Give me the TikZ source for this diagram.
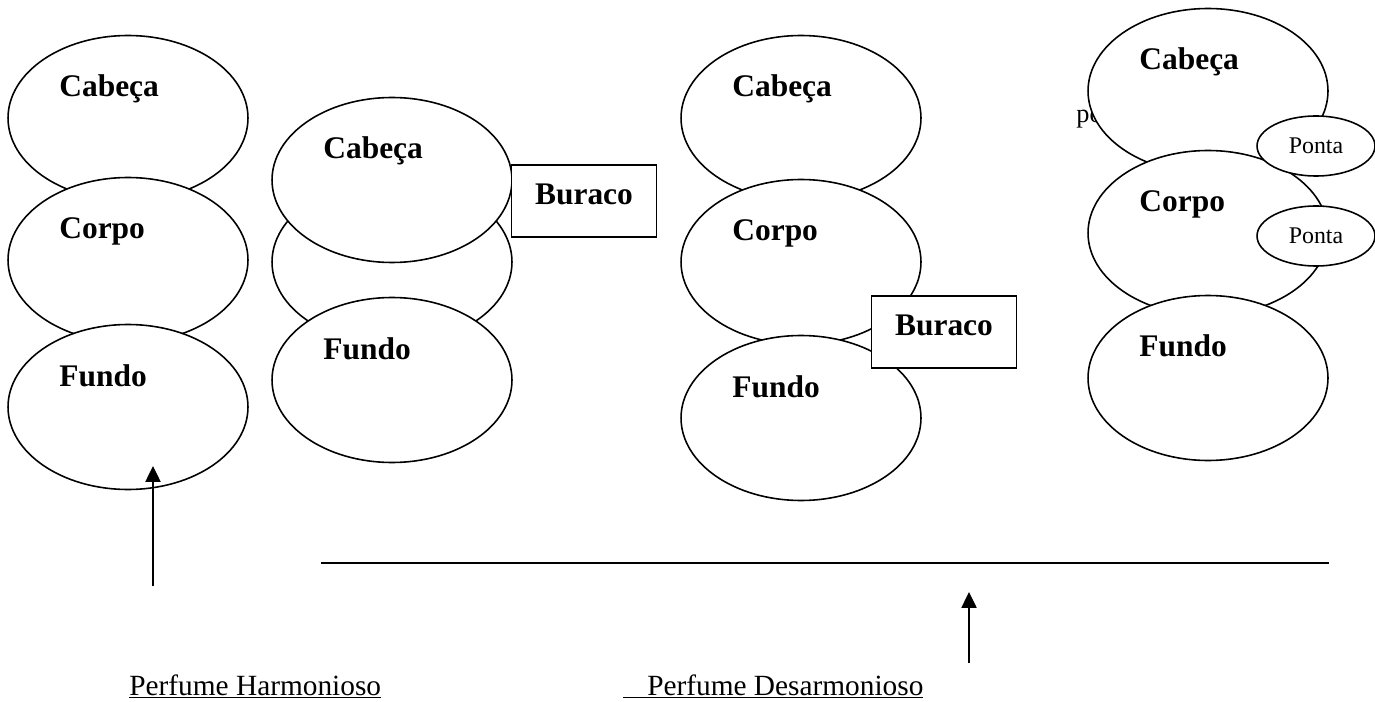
\documentclass[tikz,border=0pt]{standalone}
\usepackage{fontspec}
\setmainfont{Liberation Serif}
\usetikzlibrary{shapes.geometric,arrows.meta}

\begin{document}
\begin{tikzpicture}[x=0.02cm, y=-0.02cm, >={Triangle[width=8.5pt,length=9pt]},
    camada/.style={shape=ellipse, draw, line width=0.9pt, fill=white, minimum width=4.8cm, minimum height=3.3cm, inner sep=0pt},
    ponta/.style={shape=ellipse, draw, line width=0.9pt, fill=white, minimum width=2.36cm, minimum height=1.2cm, inner sep=0pt, font=\fontsize{13.6}{15}\selectfont},
    buraco/.style={shape=rectangle, draw, line width=0.9pt, fill=white, minimum width=2.9cm, minimum height=1.44cm, inner sep=0pt, text height=8.5pt, text depth=4pt, font=\fontsize{17.9}{20}\selectfont\bfseries},
    nome/.style={anchor=base west, inner sep=0pt, font=\fontsize{17.9}{20}\selectfont\bfseries},
    legenda/.style={anchor=base west, inner sep=0pt, font=\fontsize{16.7}{19}\selectfont}]
    \useasboundingbox (0,0) rectangle (1375,702);
    % Harmonioso
    \node[camada] (cab1) at (128,118) {};
    \node[camada] (cor1) at (128,260) {};
    \node[camada] (fun1) at (128,407) {};
    % Buraco no corpo
    \node[camada] (cor2) at (392,262) {};
    \node[camada] (cab2) at (392,180) {};
    \node[camada] (fun2) at (392,380) {};
    \node[buraco] (bur2) at (584,201) {Buraco};
    % Buraco no fundo
    \node[camada] (cab3) at (801,118) {};
    \node[camada] (cor3) at (801,262) {};
    \node[camada] (fun3) at (801,418) {};
    \node[buraco] (bur3) at (944,332) {Buraco};
    % Pontas
    \node[anchor=base west, inner sep=0pt, font=\fontsize{15}{17}\selectfont] (po) at (1076,123) {po};
    \node[camada] (cab4) at (1208,91) {};
    \node[camada] (cor4) at (1208,233) {};
    \node[ponta] (pon4a) at (1316,146) {Ponta};
    \node[ponta] (pon4b) at (1316,236) {Ponta};
    \node[camada] (fun4) at (1208,378) {};
    % Labels
    \node[nome] (cab1t) at ([shift={(-69,-21)}]cab1.center) {Cabeça};
    \node[nome] (cor1t) at ([shift={(-69,-21)}]cor1.center) {Corpo};
    \node[nome] (fun1t) at ([shift={(-69,-21)}]fun1.center) {Fundo};
    \node[nome] (cab2t) at ([shift={(-69,-21)}]cab2.center) {Cabeça};
    \node[nome] (fun2t) at ([shift={(-69,-21)}]fun2.center) {Fundo};
    \node[nome] (cab3t) at ([shift={(-69,-21)}]cab3.center) {Cabeça};
    \node[nome] (cor3t) at ([shift={(-69,-21)}]cor3.center) {Corpo};
    \node[nome] (fun3t) at ([shift={(-69,-21)}]fun3.center) {Fundo};
    \node[nome] (cab4t) at ([shift={(-69,-21)}]cab4.center) {Cabeça};
    \node[nome] (cor4t) at ([shift={(-69,-21)}]cor4.center) {Corpo};
    \node[nome] (fun4t) at ([shift={(-69,-21)}]fun4.center) {Fundo};
    \node[legenda] (harm) at (129,695) {\underline{Perfume Harmonioso}};
    \node[legenda] (desarm) at (623,695) {\underline{\hspace*{13.6pt}Perfume Desarmonioso}};
    % Edges
    \coordinate (a1) at (153,586);
    \coordinate (a1tip) at (153,466);
    \coordinate (a2) at (969,663);
    \coordinate (a2tip) at (969,592);
    \coordinate (divA) at (321,563);
    \coordinate (divB) at (1329,563);
    \draw[->, line width=1.2pt] (a1) -- (a1tip);
    \draw[->, line width=1.2pt] (a2) -- (a2tip);
    \draw[line width=1.2pt] (divA) -- (divB);
\end{tikzpicture}
\end{document}
